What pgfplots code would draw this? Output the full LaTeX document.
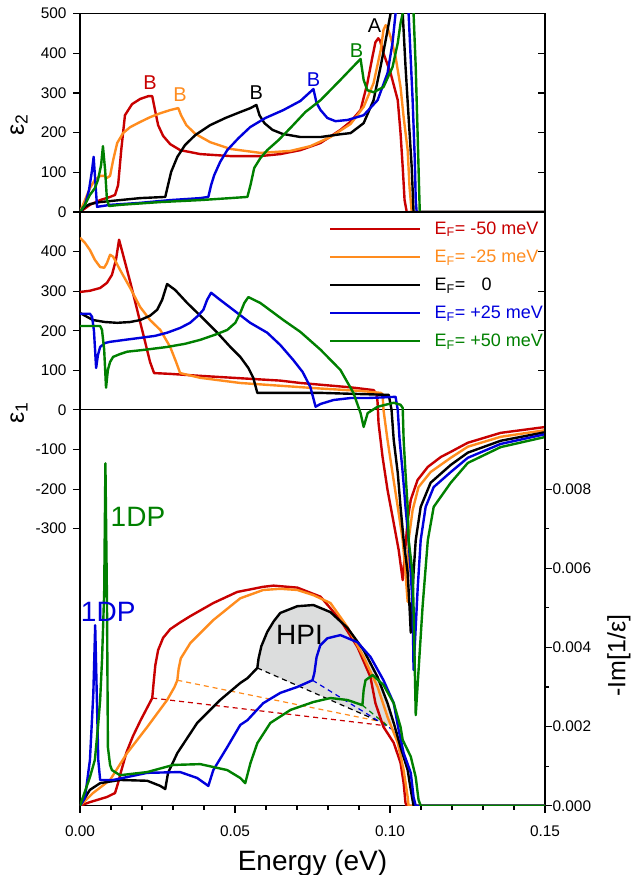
\documentclass[border=0pt]{standalone}
\usepackage{fontspec}
\setmainfont{Liberation Sans}
\usepackage{pgfplots}
\pgfplotsset{compat=1.18}
\definecolor{cred}{RGB}{200,0,0}
\definecolor{corange}{RGB}{255,140,30}
\definecolor{cblue}{RGB}{0,0,220}
\definecolor{cgreen}{RGB}{0,128,0}
\definecolor{hpigray}{RGB}{220,221,221}
\begin{document}
\begin{tikzpicture}[x=1pt,y=1pt]
\useasboundingbox (-80,-69.3) rectangle (551,805.7);
\pgfplotsset{
  base/.style={scale only axis, width=465pt, xmin=0, xmax=0.15,
    axis line style={line width=1.2pt},
    every tick/.style={black, line width=1.1pt},
    major tick length=7pt, minor tick length=4pt,
    tick label style={font=\fontsize{15.4}{18}\selectfont},
    yticklabel style={xshift=-3pt},
    xticklabel style={yshift=-10pt},
    scaled y ticks=false, scaled x ticks=false,
    clip=true},
  cur/.style={line width=2.4pt, line join=round},
  dsh/.style={line width=1.2pt, dash pattern=on 5pt off 4pt},
}
% ---------------- top panel: epsilon_2 ----------------
\begin{axis}[base, at={(0pt,593.7pt)}, anchor=south west, height=198.3pt,
  ymin=0, ymax=500, ytick={0,100,200,300,400,500},
  yticklabels={0,100,200,300,400,500}, ytick pos=left, tick align=outside,
  xtick=\empty]
\addplot[cur, cred] coordinates {(0,0) (0.0032,18) (0.0065,30) (0.0097,38) (0.0113,43) (0.0123,68) (0.0133,156) (0.0145,244) (0.0168,272) (0.0194,285) (0.022,292) (0.0233,292) (0.0242,257) (0.0252,219) (0.0268,192) (0.0291,171) (0.0323,156) (0.0388,146) (0.0485,141) (0.0582,141) (0.0646,146) (0.0711,156) (0.0776,174) (0.084,207) (0.0873,228) (0.0905,257) (0.0927,325) (0.0943,390) (0.0953,428) (0.0962,438) (0.0968,432) (0.0979,400) (0.1002,350) (0.1025,282) (0.1034,199) (0.1041,113) (0.1047,30) (0.1054,0) (0.15,0)};
\addplot[cur, corange] coordinates {(0,0) (0.0016,30) (0.0032,60) (0.0048,81) (0.0065,91) (0.0078,91) (0.0087,86) (0.0097,91) (0.0107,131) (0.012,174) (0.0139,199) (0.0162,214) (0.0194,227) (0.0226,239) (0.0259,249) (0.0291,257) (0.0317,262) (0.0326,244) (0.0343,219) (0.0372,197) (0.042,176) (0.0485,159) (0.0582,149) (0.0679,154) (0.0743,166) (0.0808,189) (0.0873,222) (0.0915,265) (0.0947,325) (0.097,408) (0.0979,459) (0.0986,471) (0.0993,462) (0.1002,441) (0.1018,391) (0.1034,315) (0.1044,239) (0.1057,156) (0.1063,63) (0.107,0) (0.15,0)};
\addplot[cur, black] coordinates {(0,0) (0.0016,13) (0.0032,20) (0.0065,25) (0.0129,30) (0.0194,35) (0.0275,38) (0.0284,68) (0.0294,101) (0.0314,139) (0.0339,169) (0.0372,194) (0.042,219) (0.0469,237) (0.0517,252) (0.055,262) (0.0569,270) (0.0579,244) (0.0595,224) (0.0621,207) (0.0653,197) (0.0711,189) (0.0776,189) (0.084,196) (0.0873,199) (0.0915,224) (0.0947,282) (0.097,368) (0.0986,433) (0.1002,501) (0.1021,620) (0.1041,501) (0.105,368) (0.106,239) (0.107,113) (0.1076,0) (0.15,0)};
\addplot[cur, cblue] coordinates {(0,0) (0.0016,18) (0.0029,55) (0.0039,106) (0.0044,139) (0.0048,93) (0.0055,13) (0.0097,18) (0.0194,23) (0.0291,30) (0.0388,35) (0.0414,38) (0.0423,68) (0.0433,93) (0.0452,126) (0.0475,156) (0.0511,186) (0.0549,214) (0.0598,237) (0.0656,257) (0.0711,280) (0.0753,310) (0.0763,275) (0.0776,257) (0.0798,237) (0.0824,229) (0.0863,232) (0.0915,244) (0.096,282) (0.0992,350) (0.1008,426) (0.1018,501) (0.104,600) (0.106,501) (0.1073,282) (0.108,131) (0.1083,30) (0.1086,0) (0.15,0)};
\addplot[cur, cgreen] coordinates {(0,0) (0.0016,18) (0.0032,43) (0.0048,60) (0.0058,81) (0.0068,118) (0.0074,166) (0.0081,106) (0.0087,30) (0.0094,15) (0.0129,18) (0.0259,25) (0.0388,30) (0.0485,35) (0.054,38) (0.055,68) (0.0562,111) (0.0582,136) (0.0604,156) (0.064,181) (0.0679,212) (0.0727,252) (0.0776,282) (0.084,333) (0.0905,386) (0.0915,333) (0.0927,307) (0.0947,302) (0.0979,315) (0.1008,365) (0.1025,426) (0.1034,476) (0.1041,501) (0.1058,580) (0.1076,501) (0.1083,365) (0.1089,199) (0.1096,0) (0.15,0)};
\node[text=cred, font=\fontsize{20}{22}\selectfont] at (axis cs:0.0226,325) {B};
\node[text=corange, font=\fontsize{20}{22}\selectfont] at (axis cs:0.0323,295) {B};
\node[text=black, font=\fontsize{20}{22}\selectfont] at (axis cs:0.0569,302) {B};
\node[text=cblue, font=\fontsize{20}{22}\selectfont] at (axis cs:0.0753,333) {B};
\node[text=cgreen, font=\fontsize{20}{22}\selectfont] at (axis cs:0.0892,408) {B};
\node[text=black, font=\fontsize{20}{22}\selectfont] at (axis cs:0.095,471) {A};
\end{axis}
\begin{axis}[base, at={(0pt,593.7pt)}, anchor=south west, height=198.3pt,
  ymin=0, ymax=500, axis x line=none, axis y line*=right,
  ytick={100,200,300,400}, yticklabels={}, tick align=inside]
\end{axis}
% ---------------- lower panel: epsilon_1 ----------------
\begin{axis}[base, at={(0pt,0pt)}, anchor=south west, height=593.7pt,
  ymin=-1000, ymax=500,
  ytick={-300,-200,-100,0,100,200,300,400},
  yticklabels={-300,-200,-100,0,100,200,300,400},
  ytick pos=left, tick align=outside,
  xtick={0,0.05,0.1,0.15}, xticklabels={0.00,0.05,0.10,0.15},
  minor x tick num=4, xtick pos=bottom,
  xlabel={Energy (eV)},
  xlabel style={font=\fontsize{28}{30}\selectfont, anchor=base, at={(axis description cs:0.5,-0.1083)}},
  legend cell align=left,
  legend style={at={(0.5355,0.984)}, anchor=north west, draw=none, fill=none,
    inner sep=0pt, font=\fontsize{18}{20}\selectfont, row sep=14pt,
    column sep=13pt, nodes={inner sep=0pt}},
  legend image code/.code={\draw[#1] (0pt,0pt) -- (90pt,0pt);}]
\addplot[black, line width=1.2pt, forget plot] coordinates {(0,0) (0.15,0)};
\addplot[cur, cred] coordinates {(0,298) (0.0032,301) (0.0065,308) (0.0087,321) (0.0103,341) (0.0116,379) (0.0126,430) (0.0145,374) (0.0162,323) (0.0178,273) (0.0194,222) (0.021,172) (0.0226,121) (0.0239,93) (0.0291,91) (0.0388,86) (0.0517,80) (0.0646,74) (0.0711,68) (0.0873,57) (0.0947,50) (0.0957,40) (0.096,18) (0.0963,-33) (0.0976,-119) (0.0992,-202) (0.1012,-286) (0.1028,-354) (0.1041,-430) (0.1057,-278) (0.1067,-227) (0.1089,-177) (0.1122,-144) (0.1164,-119) (0.1196,-106) (0.1251,-83) (0.1357,-58) (0.1503,-43)};
\addlegendentry{\textcolor{cred}{E\textsubscript{F}= -50 meV}}
\addplot[cur, corange] coordinates {(0,435) (0.0016,422) (0.0032,404) (0.0048,379) (0.0065,361) (0.0078,359) (0.0087,371) (0.0097,392) (0.0107,387) (0.0129,354) (0.0162,308) (0.0194,260) (0.0226,227) (0.0259,202) (0.0291,159) (0.031,121) (0.0323,93) (0.0388,81) (0.0517,68) (0.0646,61) (0.0776,54) (0.0905,48) (0.097,43) (0.0976,40) (0.0979,0) (0.0992,-76) (0.1008,-159) (0.1025,-245) (0.1041,-329) (0.105,-412) (0.1057,-485) (0.106,-329) (0.1073,-253) (0.1092,-195) (0.1131,-157) (0.1196,-121) (0.1251,-93) (0.1357,-68) (0.1503,-51)};
\addlegendentry{\textcolor{corange}{E\textsubscript{F}= -25 meV}}
\addplot[cur, black] coordinates {(0,245) (0.0016,238) (0.0042,227) (0.0081,222) (0.012,220) (0.0162,222) (0.0194,227) (0.0226,238) (0.0249,253) (0.0265,278) (0.0275,303) (0.0281,318) (0.0307,303) (0.0346,270) (0.0388,238) (0.0443,195) (0.0485,159) (0.0517,134) (0.0543,106) (0.0559,81) (0.0572,43) (0.0614,43) (0.0776,43) (0.0905,40) (0.0996,38) (0.1005,0) (0.1012,-76) (0.1025,-159) (0.1034,-245) (0.1044,-329) (0.1057,-412) (0.1063,-498) (0.1067,-563) (0.1076,-412) (0.1083,-329) (0.1099,-245) (0.1131,-184) (0.1196,-139) (0.1251,-108) (0.1357,-78) (0.1503,-56)};
\addlegendentry{\textcolor{black}{E\textsubscript{F}=\hspace{0.9em}0}}
\addplot[cur, cblue] coordinates {(0,243) (0.0032,243) (0.0039,235) (0.0045,200) (0.0052,106) (0.0058,139) (0.0065,159) (0.0081,169) (0.0097,172) (0.0145,177) (0.0194,182) (0.0242,187) (0.0281,195) (0.0323,207) (0.0355,220) (0.0381,238) (0.0398,253) (0.041,278) (0.0423,296) (0.0452,278) (0.0494,253) (0.0549,220) (0.0604,195) (0.0646,164) (0.0688,126) (0.0718,96) (0.0743,58) (0.076,8) (0.0776,15) (0.0818,25) (0.0873,30) (0.0928,30) (0.1018,33) (0.1025,0) (0.1031,-76) (0.1041,-159) (0.105,-245) (0.106,-329) (0.1067,-412) (0.1073,-498) (0.1076,-657) (0.1089,-455) (0.1099,-329) (0.1115,-245) (0.1141,-195) (0.1196,-157) (0.1251,-121) (0.1357,-86) (0.1503,-61)};
\addlegendentry{\textcolor{cblue}{E\textsubscript{F}= +25 meV}}
\addplot[cur, cgreen] coordinates {(0,212) (0.0032,212) (0.0065,212) (0.0071,202) (0.0078,152) (0.0084,56) (0.009,101) (0.0097,121) (0.0107,134) (0.0129,141) (0.0152,147) (0.021,152) (0.0281,159) (0.0339,167) (0.0388,177) (0.0436,190) (0.0475,202) (0.0501,220) (0.0517,245) (0.053,270) (0.0543,285) (0.0582,270) (0.0656,227) (0.0711,197) (0.0776,152) (0.084,101) (0.0882,43) (0.0905,-8) (0.0915,-43) (0.0928,-8) (0.0944,0) (0.096,8) (0.1012,18) (0.1034,13) (0.1041,5) (0.1044,-76) (0.105,-159) (0.1057,-245) (0.106,-329) (0.1073,-412) (0.1076,-498) (0.1083,-771) (0.1105,-498) (0.1122,-329) (0.1141,-245) (0.1196,-184) (0.1251,-134) (0.1357,-94) (0.1503,-68)};
\addlegendentry{\textcolor{cgreen}{E\textsubscript{F}= +50 meV}}
\end{axis}
\begin{axis}[base, at={(0pt,0pt)}, anchor=south west, height=593.7pt,
  ymin=-1000, ymax=500, axis x line=none, axis y line*=right,
  ytick={100,200,300,400}, yticklabels={}, tick align=inside]
\end{axis}
% ---------------- lower panel: -Im(1/eps) ----------------
\begin{axis}[base, at={(0pt,0pt)}, anchor=south west, height=593.7pt,
  ymin=0, ymax=0.015, axis x line=none, axis y line*=right,
  ytick={0,0.002,0.004,0.006,0.008},
  yticklabels={0.000,0.002,0.004,0.006,0.008},
  yticklabel style={xshift=0pt},
  minor ytick={0.001,0.003,0.005,0.007,0.009},
  tick align=outside]
\addplot[fill=hpigray, draw=none] coordinates {(0.0572,0.00348) (0.0582,0.00386) (0.0604,0.00439) (0.0646,0.00487) (0.0701,0.00504) (0.0753,0.00507) (0.0808,0.00489) (0.0863,0.00449) (0.0915,0.00393) (0.096,0.00325) (0.0992,0.00259) (0.1012,0.00209) (0.0991,0.00204)} -- cycle;
\addplot[dsh, cred] coordinates {(0.0233,0.00272) (0.0986,0.00202)};
\addplot[dsh, corange] coordinates {(0.0314,0.00317) (0.0992,0.00209)};
\addplot[dsh, black] coordinates {(0.0572,0.00348) (0.0991,0.00204)};
\addplot[dsh, cblue] coordinates {(0.075,0.00317) (0.1025,0.00184)};
\addplot[dsh, cgreen] coordinates {(0.0911,0.00254) (0.0996,0.00199)};
\addplot[cur, cred] coordinates {(0,0) (0.0032,0.00009) (0.0087,0.00022) (0.0113,0.00032) (0.0122,0.00055) (0.0132,0.00085) (0.015,0.00135) (0.0171,0.00176) (0.0195,0.00215) (0.0215,0.00245) (0.0233,0.00272) (0.0238,0.00315) (0.0243,0.00355) (0.0252,0.00393) (0.0268,0.00424) (0.0291,0.00446) (0.0323,0.00463) (0.0356,0.00479) (0.043,0.00512) (0.0507,0.0054) (0.0591,0.00553) (0.0624,0.00556) (0.0701,0.00551) (0.0776,0.00528) (0.084,0.00469) (0.0895,0.00401) (0.0937,0.00325) (0.0953,0.00259) (0.0979,0.00199) (0.1012,0.00159) (0.1034,0.00108) (0.1044,0.00057) (0.105,0.00007) (0.1054,0) (0.15,0)};
\addplot[cur, corange] coordinates {(0,0) (0.0042,0.00032) (0.0097,0.00065) (0.0152,0.00133) (0.0217,0.00199) (0.0281,0.00267) (0.0305,0.00300) (0.0314,0.00317) (0.0318,0.00345) (0.0325,0.00372) (0.0356,0.00411) (0.043,0.00469) (0.0517,0.00524) (0.0591,0.00545) (0.0646,0.00548) (0.0701,0.00545) (0.0753,0.00532) (0.0808,0.00512) (0.0863,0.00451) (0.0915,0.00376) (0.096,0.003) (0.0992,0.00224) (0.1025,0.00159) (0.1044,0.0009) (0.1057,0.00022) (0.106,0) (0.15,0)};
\addplot[cur, black] coordinates {(0,0) (0.0032,0.0004) (0.0065,0.00057) (0.0129,0.00065) (0.0217,0.00063) (0.0259,0.0005) (0.0275,0.00042) (0.0284,0.00083) (0.0314,0.00133) (0.0378,0.00209) (0.0452,0.00267) (0.0517,0.0031) (0.054,0.00322) (0.0572,0.00348) (0.0576,0.00372) (0.0585,0.00403) (0.0604,0.00439) (0.0625,0.00466) (0.0646,0.00487) (0.0701,0.00504) (0.0753,0.00507) (0.0808,0.00489) (0.0863,0.00449) (0.0915,0.00393) (0.096,0.00325) (0.0992,0.00259) (0.1012,0.00209) (0.1034,0.00148) (0.1057,0.0009) (0.1067,0.0004) (0.1076,0) (0.15,0)};
\addplot[cur, cblue] coordinates {(0,0) (0.0016,0.0002) (0.0032,0.00115) (0.0043,0.00284) (0.0049,0.00456) (0.0054,0.00284) (0.0059,0.00115) (0.0065,0.00065) (0.0107,0.00065) (0.0217,0.00083) (0.0323,0.00085) (0.0378,0.0007) (0.0414,0.0005) (0.043,0.0009) (0.0475,0.00148) (0.0517,0.00204) (0.054,0.00216) (0.0591,0.00259) (0.0646,0.00285) (0.0701,0.003) (0.075,0.00317) (0.0756,0.00335) (0.0763,0.00375) (0.0775,0.00405) (0.0798,0.00423) (0.084,0.00431) (0.0895,0.00413) (0.0937,0.00376) (0.0979,0.00317) (0.1012,0.00259) (0.1028,0.00191) (0.1044,0.00133) (0.1067,0.00083) (0.1076,0.00022) (0.1083,0) (0.15,0)};
\addplot[cur, cgreen] coordinates {(0,0) (0.0032,0.00072) (0.0048,0.00116) (0.0058,0.00199) (0.0065,0.00267) (0.0071,0.00368) (0.0078,0.00537) (0.0082,0.00865) (0.0087,0.0052) (0.009,0.00148) (0.0097,0.00103) (0.0103,0.0009) (0.0129,0.00077) (0.0217,0.00085) (0.0301,0.00103) (0.0388,0.00105) (0.0475,0.0009) (0.0517,0.0007) (0.0533,0.00057) (0.055,0.00108) (0.0572,0.00158) (0.0614,0.00209) (0.0679,0.00242) (0.0753,0.00262) (0.0808,0.00272) (0.0863,0.00267) (0.0911,0.00254) (0.0915,0.00292) (0.0921,0.00317) (0.0944,0.0033) (0.0979,0.00305) (0.1012,0.00259) (0.1034,0.00199) (0.1041,0.00166) (0.1067,0.00124) (0.1083,0.00072) (0.1092,0.00015) (0.1099,0) (0.15,0)};
\node[text=cgreen, font=\fontsize{28}{30}\selectfont] at (axis cs:0.0187,0.00729) {1DP};
\node[text=cblue, font=\fontsize{28}{30}\selectfont] at (axis cs:0.0091,0.00489) {1DP};
\node[text=black, font=\fontsize{28}{30}\selectfont] at (axis cs:0.0708,0.00431) {HPI};
\end{axis}
% axis titles
\node[rotate=90, font=\fontsize{25}{27}\selectfont] at (-61,680.7) {ε\textsubscript{2}};
\node[rotate=90, font=\fontsize{25}{27}\selectfont] at (-61,392.7) {ε\textsubscript{1}};
\node[rotate=90, font=\fontsize{25}{27}\selectfont] at (539,150) {-Im[1/ε]};
\end{tikzpicture}
\end{document}
